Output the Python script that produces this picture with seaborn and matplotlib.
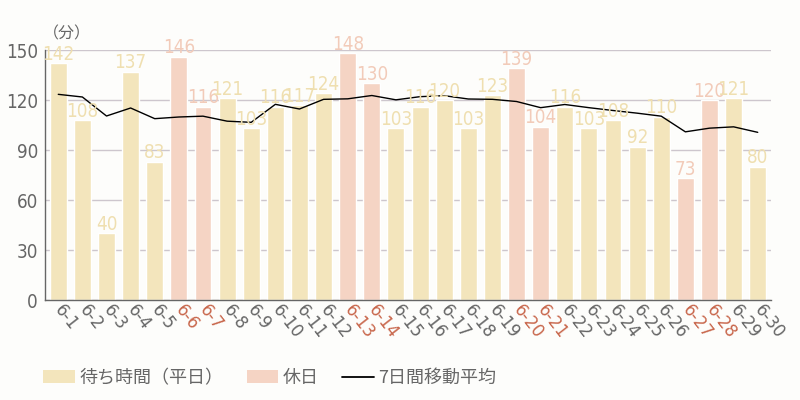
import matplotlib
matplotlib.use("Agg")
import matplotlib.pyplot as plt
import numpy as np
import pandas as pd
import seaborn as sns
from matplotlib.lines import Line2D
from matplotlib.patches import Patch

# waiting time per day in June (minutes)
DAYS = [f"6-{d}" for d in range(1, 31)]
WAIT_MINUTES = [142, 108, 40, 137, 83, 146, 116, 121, 103, 116,
                117, 124, 148, 130, 103, 116, 120, 103, 123, 139,
                104, 116, 103, 108, 92, 110, 73, 120, 121, 80]
HOLIDAYS = ["6-6", "6-7", "6-13", "6-14", "6-20", "6-21", "6-27", "6-28"]
# 7-day moving average
MOVING_AVG = [123.4, 121.8, 110.4, 115.2, 108.8, 109.8, 110.3, 107.3, 106.6, 117.4,
              114.6, 120.4, 120.7, 122.7, 120.1, 122.0, 122.6, 120.6, 120.4, 119.1,
              115.4, 117.3, 115.4, 113.7, 112.1, 110.3, 100.9, 103.1, 103.9, 100.6]

LABEL_WEEKDAY = "待ち時間（平日）"
LABEL_HOLIDAY = "休日"
LABEL_AVG = "7日間移動平均"

WEEKDAY_COLOR = "#f3e5bc"
HOLIDAY_COLOR = "#f5d4c4"
WEEKDAY_TEXT = "#efdfb0"
HOLIDAY_TEXT = "#f2cbb9"
TICK_GRAY = "#666666"
TICK_RED = "#c8664b"
BG = "#fdfdfb"

sns.set_style("white")
plt.rcParams["font.family"] = ["Noto Sans CJK JP", "DejaVu Sans"]

df = pd.DataFrame({
    "day": DAYS,
    "minutes": WAIT_MINUTES,
    "kind": [LABEL_HOLIDAY if d in HOLIDAYS else LABEL_WEEKDAY for d in DAYS],
})

fig = plt.figure(figsize=(8, 4), dpi=100, facecolor=BG)
ax = fig.add_axes([0.05625, 0.25, 0.9075, 0.625])
ax.set_facecolor(BG)

sns.barplot(
    data=df, x="day", y="minutes", hue="kind",
    palette={LABEL_WEEKDAY: WEEKDAY_COLOR, LABEL_HOLIDAY: HOLIDAY_COLOR},
    dodge=False, width=0.7, saturation=1, legend=False, ax=ax,
)
sns.lineplot(x=np.arange(len(DAYS)), y=MOVING_AVG, color="black", linewidth=1.0, ax=ax)

# value labels above each bar
for i, (day, val) in enumerate(zip(DAYS, WAIT_MINUTES)):
    col = HOLIDAY_TEXT if day in HOLIDAYS else WEEKDAY_TEXT
    ax.annotate(str(val), (i, val), xytext=(0, 2.5), textcoords="offset points",
                ha="center", va="baseline", fontsize=13.5, color=col,
                family="DejaVu Sans", fontstretch="condensed", clip_on=False)

ax.set_xlim(-0.55, len(DAYS) - 0.45)
ax.set_ylim(0, 150)
ax.set_yticks([0, 30, 60, 90, 120, 150])
ax.set_xlabel("")
ax.set_ylabel("")
ax.grid(axis="y", color="#cdc6cd", linewidth=1)
ax.grid(axis="x", visible=False)
ax.set_axisbelow(True)
for side in ["top", "right"]:
    ax.spines[side].set_visible(False)
for side in ["left", "bottom"]:
    ax.spines[side].set_color("#666666")
    ax.spines[side].set_linewidth(1)

ax.tick_params(axis="y", length=0, pad=5, labelsize=13.5, labelcolor=TICK_GRAY)
for lbl in ax.get_yticklabels():
    lbl.set_family("DejaVu Sans")
    lbl.set_fontstretch("condensed")

ax.tick_params(axis="x", length=0, pad=5)
ax.set_xticks(np.arange(len(DAYS)))
ax.set_xticklabels(DAYS, rotation=-52, ha="left", va="center",
                   rotation_mode="anchor", fontsize=12, family="DejaVu Sans")
for lbl, day in zip(ax.get_xticklabels(), DAYS):
    lbl.set_color(TICK_RED if day in HOLIDAYS else TICK_GRAY)

fig.text(0.054, 0.915, "（分）", fontsize=11.5, color=TICK_GRAY, ha="left", va="center")

handles = [
    Patch(facecolor=WEEKDAY_COLOR, edgecolor="none"),
    Patch(facecolor=HOLIDAY_COLOR, edgecolor="none"),
    Line2D([], [], color="black", linewidth=1.3),
]
leg = fig.legend(handles, [LABEL_WEEKDAY, LABEL_HOLIDAY, LABEL_AVG],
                 loc="center left", bbox_to_anchor=(0.054, 0.055), ncol=3,
                 frameon=False, fontsize=13, handlelength=1.75, handleheight=0.75,
                 handletextpad=0.25, columnspacing=1.3, borderaxespad=0,
                 borderpad=0)
for t in leg.get_texts():
    t.set_color(TICK_GRAY)

fig.savefig("out.png", dpi=100, facecolor=BG)
